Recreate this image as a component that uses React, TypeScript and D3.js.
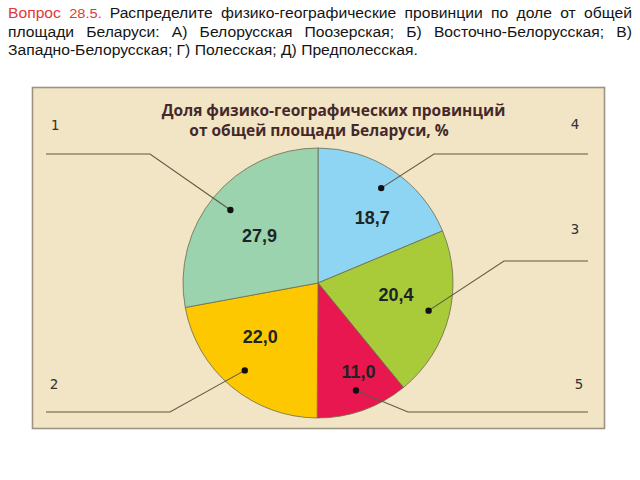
import React, { useEffect, useRef } from "react";
import * as d3 from "d3";

// ---- data ----
const values = [18.7, 20.4, 11.0, 22.0, 27.9];
const valueLabels = ["18,7", "20,4", "11,0", "22,0", "27,9"];
const markerNumbers = ["4", "3", "5", "2", "1"];
const sliceColors = ["#8dd5f2", "#a9cb3a", "#e9174f", "#fdc800", "#9bd3ae"];
const headerLines = [
  "Распределите физико-географические провинции по доле от общей",
  "площади Беларуси: А) Белорусская Поозерская; Б) Восточно-Белорусская; В)",
  "Западно-Белорусская; Г) Полесская; Д) Предполесская.",
];
const chartTitle = ["Доля физико-географических провинций", "от общей площади Беларуси, %"];

// ---- layout (styles / positions) ----
const W = 640, H = 480;
const cx = 318, cy = 283, R = 135;
const labelR = [85, 79, 98, 79, 75];
const labelAngOff = [6, -5, -5, 7, -1]; // degrees
const dotR = 114;
const elbows: [number, number][] = [[434, 154], [504, 261], [408, 412], [170, 412], [150, 154]];
const lineEnds = [588, 588, 588, 46, 46];
const numPos: [number, number][] = [[575, 129], [575, 234], [579, 389], [54, 389], [55, 130]];
const HDR_X = 8, HDR_W = 624, LINE3_W = 410;

export default function App() {
  const hdrRef = useRef<SVGGElement>(null);
  useEffect(() => {
    const g = hdrRef.current;
    if (!g) return;
    const l3 = g.querySelector("text.l3") as SVGTextElement;
    const L3 = l3.getComputedTextLength();
    const sx = LINE3_W / L3;
    g.setAttribute("transform", `translate(${HDR_X},0) scale(${sx},1)`);
    d3.select(g).selectAll<SVGTextElement, unknown>("text.just").each(function () {
      const el = this;
      el.setAttribute("word-spacing", "0");
      const len = el.getComputedTextLength();
      const spaces = (el.textContent || "").split(" ").length - 1;
      if (spaces > 0) {
        const extra = (HDR_W / sx - len) / spaces;
        el.setAttribute("word-spacing", String(extra));
      }
    });
  }, []);

  const pie = d3.pie<number>().sort(null).startAngle(0).endAngle(2 * Math.PI);
  const arcs = pie(values);
  const arc = d3.arc<d3.PieArcDatum<number>>().innerRadius(0).outerRadius(R);
  const polar = (ang: number, r: number): [number, number] => [
    cx + r * Math.sin(ang),
    cy - r * Math.cos(ang),
  ];

  const font = "'Liberation Sans', Arial, sans-serif";

  return (
    <svg width={W} height={H} style={{ position: "absolute", left: 0, top: 0, background: "#fff" }}>
      <g ref={hdrRef} transform={`translate(${HDR_X},0)`} fontFamily={font} fontSize={14.5} fill="#151515">
        <text className="just" x={0} y={18.5}>
          <tspan fill="#e0393b">Вопрос </tspan>
          <tspan fill="#e0393b" fontSize={13.5}>28.5. </tspan>
          {headerLines[0]}
        </text>
        <text className="just" x={0} y={37}>
          {headerLines[1]}
        </text>
        <text className="l3" x={0} y={55.5}>{headerLines[2]}</text>
      </g>

      <rect x={32.5} y={87.5} width={572} height={341} fill="#f2e5c5" stroke="#9c9382" strokeWidth={1.6} />

      <g fontFamily="'Open Sans', 'DejaVu Sans', sans-serif" fontWeight="bold" fontSize={15.5} fill="#45292a" textAnchor="middle">
        <text x={333.5} y={115.5}>{chartTitle[0]}</text>
        <text x={319} y={135.5}>{chartTitle[1]}</text>
      </g>

      <g transform={`translate(${cx},${cy})`}>
        {arcs.map((a, i) => (
          <path key={i} d={arc(a) || ""} fill={sliceColors[i]} stroke="#6f6a4c" strokeWidth={0.8} />
        ))}
      </g>

      {arcs.map((a, i) => {
        const mid = (a.startAngle + a.endAngle) / 2;
        const [lx, ly] = polar(mid + (labelAngOff[i] * Math.PI) / 180, labelR[i]);
        return (
          <text key={i} x={lx} y={ly + 6} textAnchor="middle" fontFamily="'Liberation Sans', Arial, sans-serif"
            fontWeight="bold" fontSize={18} fill="#1c2424">
            {valueLabels[i]}
          </text>
        );
      })}

      {arcs.map((a, i) => {
        const mid = (a.startAngle + a.endAngle) / 2;
        const [dx, dy] = polar(mid, dotR);
        const [ex, ey] = elbows[i];
        return (
          <g key={i}>
            <polyline points={`${dx},${dy} ${ex},${ey} ${lineEnds[i]},${ey}`} fill="none" stroke="#5d5a45" strokeWidth={1.1} />
            <circle cx={dx} cy={dy} r={3.2} fill="#111" />
          </g>
        );
      })}

      <g fontFamily="'DejaVu Sans Mono', monospace" fontSize={14} fill="#333" textAnchor="middle">
        {markerNumbers.map((n, i) => (
          <text key={i} x={numPos[i][0]} y={numPos[i][1]}>{n}</text>
        ))}
      </g>
    </svg>
  );
}
